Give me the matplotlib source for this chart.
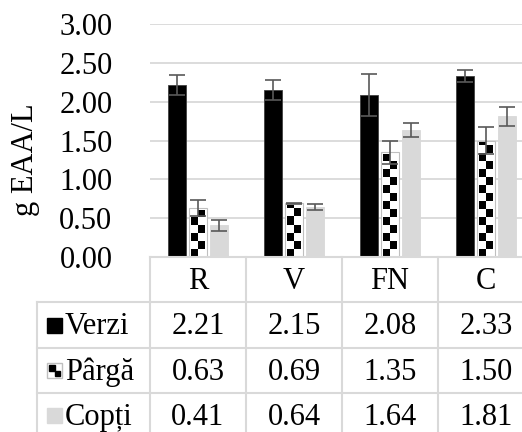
import numpy as np
import matplotlib
matplotlib.use("Agg")
import matplotlib.pyplot as plt
from matplotlib.patches import Rectangle

# datos
categorias = ["R", "V", "FN", "C"]
series = ["Verzi", "Pârgă", "Copți"]
verzi = [2.21, 2.15, 2.08, 2.33]
parga = [0.63, 0.69, 1.35, 1.50]
copti = [0.41, 0.64, 1.64, 1.81]
err_verzi = [0.13, 0.13, 0.27, 0.08]
err_parga = [0.10, 0.01, 0.15, 0.17]
err_copti = [0.07, 0.04, 0.09, 0.12]
yticks = [0.0, 0.5, 1.0, 1.5, 2.0, 2.5, 3.0]
ylabel = "g EAA/L"

valores = [verzi, parga, copti]
errores = [err_verzi, err_parga, err_copti]

plt.rcParams["font.family"] = ["Liberation Serif", "DejaVu Serif"]
FS = 22
GRIS = "#d9d9d9"
ERR = "#595959"

W, H = 522, 432
fig = plt.figure(figsize=(W / 100, H / 100), dpi=100)

# area del grafico (en pixeles): x 150..534, y 24..257
x0, colw = 150, 96
ytop, ybot = 24, 257
ax = fig.add_axes([x0 / W, (H - ybot) / H, 4 * colw / W, (ybot - ytop) / H])
ax.set_xlim(-0.5, 3.5)
ax.set_ylim(0, 3)
for s in ax.spines.values():
    s.set_visible(False)
ax.set_yticks(yticks)
ax.set_yticklabels([f"{t:.2f}" for t in yticks], fontsize=FS)
ax.tick_params(axis="y", length=0, pad=27)
ax.set_xticks([])
ax.yaxis.grid(True, color=GRIS, lw=1.3)
ax.set_axisbelow(True)

x = np.arange(len(categorias))
ancho = 0.18
offs = [-0.22, 0.0, 0.22]

# Verzi
ax.bar(x + offs[0], verzi, ancho, color="black", edgecolor="#404040", lw=0.6, zorder=2)
# Copti
ax.bar(x + offs[2], copti, ancho, color=GRIS, edgecolor=GRIS, lw=0.6, zorder=2)
# Parga: tablero de ajedrez recortado a cada barra
barras = ax.bar(x + offs[1], parga, ancho, color="white", edgecolor="#bfbfbf", lw=0.8, zorder=2)
celda_y = 8 / 78.0
for b in barras:
    bx, bw, bh = b.get_x(), b.get_width(), b.get_height()
    inset = 0.02
    nr = int(np.ceil(bh / celda_y)) + 1
    patron = np.indices((nr, 2)).sum(axis=0) % 2
    im = ax.imshow(patron[::-1], cmap="gray", vmin=0, vmax=1, interpolation="nearest",
                   extent=(bx + inset, bx + bw - inset, 0, nr * celda_y), aspect="auto", zorder=3)
    clip = Rectangle((bx + inset, 0), bw - 2 * inset, bh - 0.02, transform=ax.transData)
    im.set_clip_path(clip)
ax.set_xlim(-0.5, 3.5)
ax.set_ylim(0, 3)

for k in range(3):
    ax.errorbar(x + offs[k], valores[k], yerr=errores[k], fmt="none", ecolor=ERR,
                elinewidth=1.2, capsize=5.5, capthick=1.2, zorder=4)

# tabla de datos (en pixeles)
tab = fig.add_axes([0, 0, 1, 1], facecolor="none")
tab.set_xlim(0, W)
tab.set_ylim(H, 0)
tab.axis("off")

filas = [257, 302, 348, 393, 438]
xl = 37
dy = 2  # ajuste vertical del texto
tab.plot([x0, W], [filas[0], filas[0]], color=GRIS, lw=1.5)
for yy in filas[1:4]:
    tab.plot([xl, W], [yy, yy], color=GRIS, lw=1.5)
tab.plot([xl, xl], [filas[1], H], color=GRIS, lw=1.5)
for i in range(4):
    xx = x0 + colw * i
    tab.plot([xx, xx], [filas[0], H], color=GRIS, lw=1.5)

for i, c in enumerate(categorias):
    tab.text(x0 + colw * (i + 0.5), (filas[0] + filas[1]) / 2 + dy, c, fontsize=FS,
             ha="center", va="center")
for r, (nombre, vals) in enumerate(zip(series, valores)):
    yc = (filas[r + 1] + filas[r + 2]) / 2
    for i, v in enumerate(vals):
        tab.text(x0 + colw * (i + 0.5), yc + dy, f"{v:.2f}", fontsize=FS, ha="center", va="center")
    tab.text(65, yc + dy, nombre, fontsize=FS, ha="left", va="center")

# claves de la leyenda
k0, ks = 47, 15
yc = (filas[1] + filas[2]) / 2
tab.add_patch(Rectangle((k0, yc - ks / 2), ks, ks, color="black"))
yc = (filas[2] + filas[3]) / 2
tab.add_patch(Rectangle((k0, yc - ks / 2), ks, ks, facecolor="white", edgecolor="#bfbfbf", lw=1))
tab.add_patch(Rectangle((k0 + 2, yc - ks / 2 + 2), (ks - 4) / 2, (ks - 4) / 2, color="black"))
tab.add_patch(Rectangle((k0 + 2 + (ks - 4) / 2, yc), (ks - 4) / 2, (ks - 4) / 2, color="black"))
yc = (filas[3] + filas[4]) / 2
tab.add_patch(Rectangle((k0, yc - ks / 2), ks, ks, color=GRIS))

tab.text(25, 160, ylabel, fontsize=FS, rotation=90, ha="center", va="center")

fig.savefig("out.png", dpi=100)
